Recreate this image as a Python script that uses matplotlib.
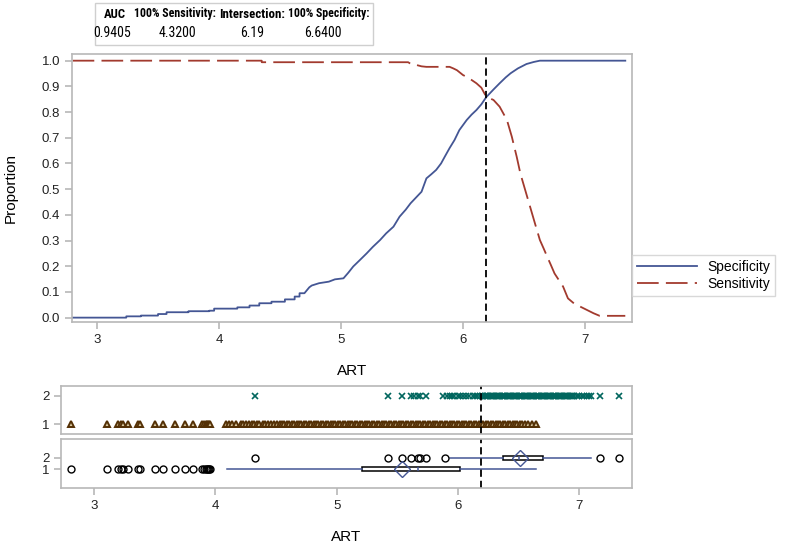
import matplotlib
matplotlib.use("Agg")
import matplotlib.pyplot as plt
from matplotlib.lines import Line2D
from matplotlib.patches import Rectangle

# --- Data ---
# specificity / sensitivity curves
spec_x = [2.80, 3.24, 3.24, 3.36, 3.36, 3.50, 3.50, 3.57, 3.57, 3.75, 3.75, 3.92, 3.92, 3.96,
          3.96, 4.15, 4.15, 4.25, 4.25, 4.33, 4.33, 4.43, 4.43, 4.54, 4.54, 4.62, 4.62, 4.66,
          4.66, 4.70, 4.74, 4.76, 4.82, 4.90, 4.95, 5.02, 5.06, 5.10, 5.15, 5.21, 5.26, 5.32,
          5.37, 5.43, 5.48, 5.53, 5.57, 5.62, 5.66, 5.70, 5.74, 5.78, 5.82, 5.85, 5.89, 5.93,
          5.97, 6.03, 6.07, 6.11, 6.15, 6.19, 6.25, 6.30, 6.35, 6.39, 6.45, 6.52, 6.58, 6.63,
          7.33]
spec_y = [0.000, 0.000, 0.005, 0.005, 0.008, 0.008, 0.014, 0.014, 0.021, 0.021, 0.025, 0.025,
          0.027, 0.027, 0.035, 0.035, 0.040, 0.040, 0.047, 0.047, 0.056, 0.056, 0.062, 0.062,
          0.071, 0.071, 0.082, 0.082, 0.095, 0.095, 0.118, 0.125, 0.134, 0.140, 0.149, 0.153,
          0.175, 0.199, 0.222, 0.250, 0.275, 0.302, 0.328, 0.354, 0.393, 0.420, 0.445, 0.470,
          0.490, 0.542, 0.558, 0.575, 0.600, 0.626, 0.660, 0.691, 0.730, 0.769, 0.790, 0.808,
          0.830, 0.858, 0.888, 0.912, 0.935, 0.951, 0.970, 0.987, 0.995, 1.000, 1.000]

sens_x = [2.80, 4.35, 4.35, 5.55, 5.58, 5.62, 5.66, 5.70, 5.89, 5.92, 5.95, 6.00, 6.03, 6.07,
          6.11, 6.15, 6.19, 6.25, 6.30, 6.33, 6.36, 6.40, 6.44, 6.47, 6.51, 6.55, 6.59, 6.63,
          6.66, 6.69, 6.72, 6.75, 6.82, 6.86, 6.91, 6.96, 7.07, 7.12, 7.33]
sens_y = [1.000, 1.000, 0.994, 0.994, 0.985, 0.983, 0.978, 0.976, 0.976, 0.970, 0.963, 0.944,
          0.937, 0.925, 0.912, 0.895, 0.860, 0.847, 0.821, 0.795, 0.769, 0.704, 0.626, 0.561,
          0.496, 0.431, 0.366, 0.302, 0.270, 0.237, 0.205, 0.172, 0.121, 0.075, 0.055, 0.043,
          0.017, 0.007, 0.007]

cutoff = 6.19

# summary table
table_heads = ["AUC", "100% Sensitivity:", "Intersection:", "100% Specificity:"]
table_vals = ["0.9405", "4.3200", "6.19", "6.6400"]

# individual ART values by group
art_grp1 = [2.81, 3.11, 3.20, 3.22, 3.24, 3.28, 3.36, 3.38, 3.50, 3.57, 3.67, 3.75, 3.82, 3.89,
            3.91, 3.92, 3.93, 3.94, 3.95, 3.96, 4.09, 4.11, 4.14, 4.17, 4.21, 4.23, 4.25, 4.28,
            4.30, 4.32, 4.34, 4.36, 4.39, 4.41, 4.43, 4.46, 4.48, 4.51, 4.53,
            4.55, 4.57, 4.59, 4.61, 4.63, 4.65, 4.67, 4.69, 4.71, 4.73, 4.75, 4.77, 4.79, 4.81,
            4.83, 4.85, 4.87, 4.89, 4.91, 4.93, 4.95, 4.97, 4.99, 5.01, 5.03, 5.05, 5.07, 5.09,
            5.11, 5.13, 5.15, 5.17, 5.19, 5.21, 5.23, 5.25, 5.27, 5.29, 5.31, 5.33, 5.35, 5.37,
            5.39, 5.41, 5.43, 5.45, 5.47, 5.49, 5.51, 5.53, 5.55, 5.57, 5.59, 5.61, 5.63, 5.65,
            5.67, 5.69, 5.71, 5.73, 5.75, 5.77, 5.79, 5.81, 5.83, 5.85, 5.87, 5.89, 5.91, 5.93,
            5.95, 5.97, 5.99, 6.01, 6.03, 6.05, 6.07, 6.09, 6.11, 6.13, 6.15, 6.17, 6.19, 6.21,
            6.23, 6.25, 6.27, 6.29, 6.31, 6.33, 6.35, 6.37, 6.39, 6.41, 6.43, 6.45, 6.47, 6.49,
            6.51, 6.53, 6.55, 6.58, 6.61, 6.64]
art_grp2 = [4.33, 5.42, 5.54, 5.61, 5.64, 5.67, 5.69, 5.74, 5.88, 5.91, 5.93, 5.95, 5.97, 6.00,
            6.02, 6.04, 6.07, 6.09, 6.12, 6.14, 6.16, 6.18, 6.20, 6.21, 6.22, 6.23, 6.24, 6.25,
            6.26, 6.27, 6.28, 6.29, 6.30, 6.31, 6.32, 6.33, 6.34, 6.35, 6.36, 6.37, 6.38, 6.39,
            6.40, 6.41, 6.42, 6.43, 6.44, 6.45, 6.46, 6.47, 6.48, 6.49, 6.50, 6.51, 6.52, 6.53,
            6.54, 6.55, 6.56, 6.57, 6.58, 6.59, 6.60, 6.61, 6.62, 6.63, 6.64, 6.65, 6.66, 6.67,
            6.68, 6.69, 6.70, 6.71, 6.72, 6.73, 6.74, 6.75, 6.76, 6.77, 6.78, 6.79, 6.80, 6.81,
            6.82, 6.83, 6.84, 6.85, 6.86, 6.87, 6.88, 6.89, 6.90, 6.91, 6.92, 6.93, 6.94, 6.95,
            6.96, 6.98, 7.00, 7.02, 7.04, 7.06, 7.08, 7.10, 7.17, 7.33]

# box plot summaries
box_grp1 = dict(whislo=4.10, q1=5.21, med=5.67, q3=6.02, whishi=6.64, mean=5.54,
                fliers=[2.81, 3.11, 3.20, 3.22, 3.24, 3.28, 3.36, 3.38, 3.50, 3.57, 3.67, 3.75,
                        3.82, 3.89, 3.91, 3.92, 3.93, 3.94, 3.95, 3.96])
box_grp2 = dict(whislo=5.93, q1=6.37, med=6.50, q3=6.70, whishi=7.10, mean=6.51,
                fliers=[4.33, 5.42, 5.54, 5.61, 5.67, 5.69, 5.74, 5.89, 7.17, 7.33])

# --- Style ---
plt.rcParams['font.family'] = ['Liberation Sans', 'DejaVu Sans']
plt.rcParams['font.size'] = 9.5
blue = '#445694'
red = '#A23A2E'
teal = '#01665E'
brown = '#543005'
frame = '#B8B8B8'
narrow = ['Liberation Sans Narrow', 'Roboto Condensed', 'Liberation Sans']

fig = plt.figure(figsize=(7.87, 5.49), dpi=100)
W, H = 787, 549


def px_axes(x0, y0, x1, y1):
    return fig.add_axes([x0 / W, 1 - y1 / H, (x1 - x0) / W, (y1 - y0) / H])


def style(ax):
    for s in ax.spines.values():
        s.set_color(frame)
        s.set_linewidth(1.2)
    ax.tick_params(color=frame, width=1.2, length=5, labelcolor='#222222', labelsize=9.5)


# --- Main curves ---
ax = px_axes(72, 54, 632, 322)
ax.plot(spec_x, spec_y, color=blue, lw=1.3)
ax.plot(sens_x, sens_y, color=red, lw=1.3, dashes=(12, 4))
ax.axvline(cutoff, color='black', lw=1.3, dashes=(4, 2.2))
ax.set_xlim(2.795, 7.385)
ax.set_ylim(-0.017, 1.026)
ax.set_xticks([3, 4, 5, 6, 7])
ax.set_yticks([i / 10 for i in range(11)])
ax.set_yticklabels([f'{i / 10:.1f}' for i in range(11)])
ax.set_xlabel('ART', fontsize=11, labelpad=13)
ax.set_ylabel('Proportion', fontsize=11, labelpad=17)
style(ax)

handles = [Line2D([], [], color=blue, lw=1.3),
           Line2D([], [], color=red, lw=1.3, dashes=(12, 4))]
leg = fig.legend(handles, ['Specificity', 'Sensitivity'], loc='upper left',
                 bbox_to_anchor=(632 / W, 1 - 255 / H), fontsize=10, handlelength=4.3,
                 handletextpad=0.8, borderpad=0.35, labelspacing=0.25, fancybox=False,
                 borderaxespad=0)
leg.get_frame().set_edgecolor('#CFCFCF')
leg.get_frame().set_linewidth(1.0)

# --- Summary table ---
fig.patches.append(Rectangle((95 / W, 1 - 45 / H), 278 / W, 42 / H, transform=fig.transFigure,
                             facecolor='white', edgecolor='#CFCFCF', lw=1.0))
head_x = [115, 175, 252, 329]
val_x = [112, 177, 252, 323]
head_w = [22, 82, 66, 82]   # room for each header, px
renderer = fig.canvas.get_renderer()
for hx, vx, hw, head, val in zip(head_x, val_x, head_w, table_heads, table_vals):
    t = fig.text(hx / W, 1 - 14 / H, head, ha='center', va='center', fontsize=10.5,
                 fontweight='bold', family=narrow)
    w = t.get_window_extent(renderer).width
    if w > hw:
        t.set_fontsize(10.5 * hw / w)
    fig.text(vx / W, 1 - 33 / H, val, ha='center', va='center', fontsize=10, family=narrow)

# --- Strip plot of individual values ---
ax2 = px_axes(61, 386, 632, 434)
ax2.plot(art_grp1, [1] * len(art_grp1), linestyle='none', marker='^', ms=5,
         mfc='#D8C8A0', mec=brown, mew=1.4)
ax2.plot(art_grp2, [2] * len(art_grp2), linestyle='none', marker='x', ms=5,
         color=teal, mew=1.2)
ax2.axvline(cutoff, color='black', lw=1.3, dashes=(4, 2.2))
ax2.set_xlim(2.728, 7.434)
ax2.set_ylim(0.643, 2.357)
ax2.set_yticks([1, 2])
ax2.set_xticks([])
style(ax2)

# --- Box plots ---
ax3 = px_axes(61, 439, 632, 488)
ax3.bxp([box_grp1, box_grp2], positions=[1, 2], vert=False, widths=0.45,
        showmeans=True, showcaps=False, patch_artist=True,
        boxprops=dict(facecolor='white', edgecolor='black', lw=1.1),
        whiskerprops=dict(color=blue, lw=1.1),
        medianprops=dict(color=blue, lw=1.1),
        meanprops=dict(marker='D', ms=8.5, mfc='none', mec=blue, mew=1.0),
        flierprops=dict(marker='o', ms=5, mfc='none', mec='black', mew=1.0))
ax3.axvline(cutoff, color='black', lw=1.3, dashes=(4, 2.2))
ax3.set_xlim(2.728, 7.434)
ax3.set_ylim(-0.727, 3.727)
ax3.set_yticks([1, 2])
ax3.set_yticklabels(['1', '2'])
ax3.set_xticks([3, 4, 5, 6, 7])
ax3.set_xlabel('ART', fontsize=11, labelpad=13)
style(ax3)

plt.savefig('out.png', dpi=100)
